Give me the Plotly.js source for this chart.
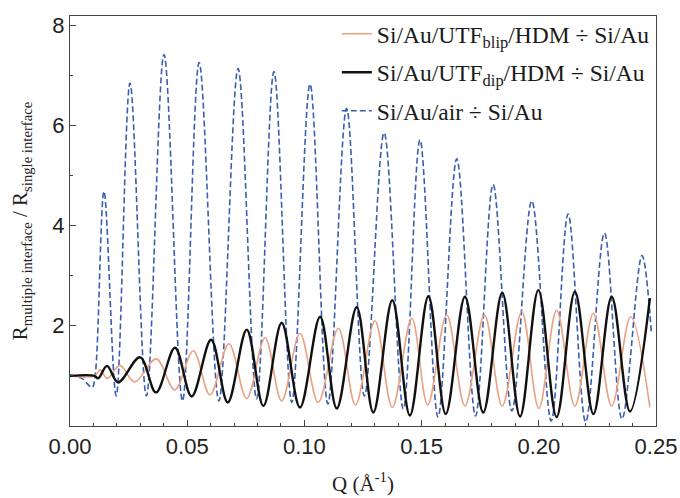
<!DOCTYPE html>
<html>
<head>
<meta charset="utf-8">
<script src="https://cdn.plot.ly/plotly-3.0.1.min.js"></script>
<style>html,body{margin:0;padding:0;background:#fff;}#chart{width:680px;height:498px;}</style>
</head>
<body>
<div id="chart"></div>
<script>
// Si/Au/air ÷ Si/Au (blue dashed) — read at extremes
const qAir = [0, 0.005, 0.0094, 0.0107, 0.0145, 0.0197, 0.0256, 0.0326, 0.0401, 0.048, 0.0551, 0.0635, 0.0717, 0.0796, 0.087, 0.0946, 0.1024, 0.110, 0.118, 0.1256, 0.134, 0.1422, 0.1493, 0.157, 0.165, 0.173, 0.1805, 0.1885, 0.197, 0.2053, 0.2125, 0.220, 0.228, 0.2355, 0.244, 0.248];
const rAir = [1.02, 0.95, 0.77, 1.0, 4.68, 0.6, 6.84, 0.6, 7.41, 0.5, 7.25, 0.5, 7.13, 0.54, 7.07, 0.47, 6.82, 0.44, 6.34, 0.6, 5.85, 0.34, 5.71, 0.18, 5.33, 0.2, 4.82, 0.3, 4.49, 0.1, 4.23, 0.08, 3.85, 0.14, 3.4, 1.88];

// Si/Au/UTF_blip/HDM ÷ Si/Au (orange)
const qBlip = [0, 0.0105, 0.0128, 0.0159, 0.0213, 0.0276, 0.0368, 0.0447, 0.0526, 0.0597, 0.0678, 0.0754, 0.0832, 0.0903, 0.0981, 0.1059, 0.1145, 0.1218, 0.1301, 0.1375, 0.1458, 0.1526, 0.1607, 0.1685, 0.1768, 0.1844, 0.1927, 0.2000, 0.2076, 0.2154, 0.2233, 0.2311, 0.2392, 0.2474];
const rBlip = [1.0, 1.0, 1.12, 0.95, 1.21, 0.88, 1.34, 0.72, 1.50, 0.62, 1.64, 0.55, 1.76, 0.50, 1.85, 0.47, 1.95, 0.42, 2.10, 0.37, 2.15, 0.42, 2.22, 0.40, 2.22, 0.40, 2.28, 0.35, 2.31, 0.40, 2.25, 0.40, 2.18, 0.37];

// Si/Au/UTF_dip/HDM ÷ Si/Au (black)
const qDip = [0, 0.0105, 0.012, 0.0158, 0.0205, 0.0299, 0.0367, 0.0448, 0.0519, 0.0602, 0.0673, 0.0754, 0.0825, 0.0903, 0.0981, 0.1067, 0.1138, 0.1223, 0.1294, 0.1375, 0.145, 0.1529, 0.1603, 0.1685, 0.1763, 0.1844, 0.192, 0.1998, 0.2076, 0.2154, 0.2233, 0.2311, 0.2389, 0.2474];
const rDip = [1.0, 1.0, 0.95, 1.2, 0.87, 1.37, 0.67, 1.56, 0.59, 1.72, 0.47, 1.92, 0.40, 2.06, 0.37, 2.18, 0.35, 2.37, 0.27, 2.51, 0.21, 2.59, 0.24, 2.58, 0.27, 2.66, 0.19, 2.71, 0.18, 2.68, 0.24, 2.58, 0.29, 2.55];

const names = [
  'Si/Au/UTF<sub>blip</sub>/HDM ÷ Si/Au',
  'Si/Au/UTF<sub>dip</sub>/HDM ÷ Si/Au',
  'Si/Au/air ÷ Si/Au'
];
const xTickVals = [0, 0.05, 0.10, 0.15, 0.20, 0.25];
const xTickText = ['0.00', '0.05', '0.10', '0.15', '0.20', '0.25'];
const yTickVals = [2, 4, 6, 8];

const traces = [
  {x: qAir, y: rAir, name: names[2], mode: 'lines', legendrank: 3, legendgroup: 'c',
   line: {color: '#3a5fb0', width: 1.6, dash: '6px,3px', shape: 'spline', smoothing: 1}},
  {x: qBlip, y: rBlip, name: names[0], mode: 'lines', legendrank: 1, legendgroup: 'a',
   line: {color: '#e9a283', width: 1.6, shape: 'spline', smoothing: 1}},
  {x: qDip, y: rDip, name: names[1], mode: 'lines', legendrank: 2, legendgroup: 'b',
   line: {color: '#111111', width: 2.4, shape: 'spline', smoothing: 1}}
];

const axisCommon = {
  showgrid: false, zeroline: false, showline: true, mirror: true,
  linecolor: '#444', linewidth: 1.2,
  ticks: 'inside', ticklen: 6, tickcolor: '#444', tickwidth: 1,
  tickfont: {family: 'Liberation Sans, Arial, sans-serif', size: 22, color: '#222'}
};

const layout = {
  width: 680, height: 498,
  margin: {l: 70, r: 24, t: 13, b: 72},
  paper_bgcolor: '#fff', plot_bgcolor: '#fff',
  showlegend: true,
  legend: {
    x: 0.998, xanchor: 'right', y: 1.01, yanchor: 'top',
    bgcolor: 'rgba(0,0,0,0)', borderwidth: 0,
    font: {family: 'Liberation Serif, Times New Roman, serif', size: 23.5, color: '#1a1a1a'},
    traceorder: 'grouped', tracegroupgap: 5
  },
  xaxis: Object.assign({}, axisCommon, {
    range: [0, 0.25], tickvals: xTickVals, ticktext: xTickText,
    minor: {dtick: 0.01, ticks: 'inside', ticklen: 3, tickcolor: '#444'},
    title: {text: 'Q (Å<sup>-1</sup>)', standoff: 18,
      font: {family: 'Liberation Serif, Times New Roman, serif', size: 21, color: '#222'}}
  }),
  yaxis: Object.assign({}, axisCommon, {
    range: [0, 8.18], tickvals: yTickVals,
    minor: {dtick: 1, ticks: 'inside', ticklen: 3, tickcolor: '#444'},
    title: {text: 'R<sub>multiple interface</sub> / R<sub>single interface</sub>', standoff: 18,
      font: {family: 'Liberation Serif, Times New Roman, serif', size: 21, color: '#222'}}
  })
};

Plotly.newPlot('chart', traces, layout, {displayModeBar: false, staticPlot: true});
</script>
</body>
</html>
